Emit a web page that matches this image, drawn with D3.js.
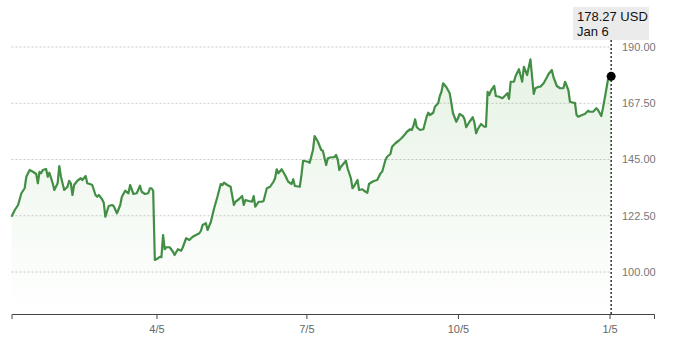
<!DOCTYPE html>
<html>
<head>
<meta charset="utf-8">
<script src="https://cdn.jsdelivr.net/npm/d3@7"></script>
<style>
  html, body { margin: 0; padding: 0; background: #fff; }
  svg { display: block; font-family: "Liberation Sans", Arial, Helvetica, sans-serif; }
</style>
</head>
<body>
<svg id="chart" width="680" height="339"></svg>
<script>
// ---- data ----
const dates = [
"2025-01-07","2025-01-09","2025-01-11","2025-01-13","2025-01-15","2025-01-16","2025-01-18","2025-01-20","2025-01-22","2025-01-23",
"2025-01-24","2025-01-25","2025-01-26","2025-01-28","2025-01-29","2025-01-30","2025-02-01","2025-02-02","2025-02-04","2025-02-05",
"2025-02-06","2025-02-08","2025-02-10","2025-02-11","2025-02-12","2025-02-13","2025-02-14","2025-02-16","2025-02-18","2025-02-19",
"2025-02-21","2025-02-22","2025-02-24","2025-02-25","2025-02-27","2025-02-28","2025-03-01","2025-03-03","2025-03-04","2025-03-05",
"2025-03-07","2025-03-09","2025-03-10","2025-03-12","2025-03-14","2025-03-15","2025-03-17","2025-03-19","2025-03-20","2025-03-22",
"2025-03-24","2025-03-26","2025-03-27","2025-03-29","2025-03-31","2025-04-01","2025-04-02","2025-04-03","2025-04-04","2025-04-06",
"2025-04-07","2025-04-08","2025-04-09","2025-04-10","2025-04-11","2025-04-13","2025-04-15","2025-04-16","2025-04-18","2025-04-20",
"2025-04-21","2025-04-23","2025-04-25","2025-04-27","2025-04-29","2025-05-01","2025-05-02","2025-05-03","2025-05-05","2025-05-06",
"2025-05-08","2025-05-09","2025-05-10","2025-05-12","2025-05-14","2025-05-15","2025-05-16","2025-05-18","2025-05-20","2025-05-22",
"2025-05-23","2025-05-25","2025-05-27","2025-05-28","2025-05-29","2025-05-31","2025-06-02","2025-06-03","2025-06-04","2025-06-06",
"2025-06-08","2025-06-09","2025-06-11","2025-06-13","2025-06-15","2025-06-16","2025-06-17","2025-06-18","2025-06-20","2025-06-22",
"2025-06-24","2025-06-26","2025-06-27","2025-06-28","2025-07-01","2025-07-02","2025-07-03","2025-07-06","2025-07-07","2025-07-09",
"2025-07-10","2025-07-12","2025-07-14","2025-07-15","2025-07-17","2025-07-18","2025-07-20","2025-07-22","2025-07-23","2025-07-24",
"2025-07-25","2025-07-26","2025-07-28","2025-07-29","2025-07-30","2025-08-01","2025-08-02","2025-08-03","2025-08-05","2025-08-06",
"2025-08-08","2025-08-09","2025-08-11","2025-08-12","2025-08-14","2025-08-15","2025-08-17","2025-08-19","2025-08-20","2025-08-22",
"2025-08-23","2025-08-25","2025-08-26","2025-08-28","2025-08-30","2025-09-01","2025-09-03","2025-09-04","2025-09-06","2025-09-07",
"2025-09-08","2025-09-09","2025-09-10","2025-09-12","2025-09-14","2025-09-16","2025-09-17","2025-09-18","2025-09-20","2025-09-21",
"2025-09-23","2025-09-24","2025-09-25","2025-09-26","2025-09-28","2025-09-30","2025-10-01","2025-10-02","2025-10-04","2025-10-05",
"2025-10-06","2025-10-08","2025-10-09","2025-10-10","2025-10-12","2025-10-14","2025-10-15","2025-10-16","2025-10-17","2025-10-19",
"2025-10-21","2025-10-22","2025-10-23","2025-10-24","2025-10-25","2025-10-27","2025-10-28","2025-10-30","2025-11-01","2025-11-03",
"2025-11-04","2025-11-05","2025-11-06","2025-11-08","2025-11-09","2025-11-11","2025-11-13","2025-11-14","2025-11-16","2025-11-18",
"2025-11-19","2025-11-20","2025-11-21","2025-11-23","2025-11-24","2025-11-26","2025-11-28","2025-11-29","2025-12-01","2025-12-02",
"2025-12-04","2025-12-06","2025-12-08","2025-12-09","2025-12-11","2025-12-12","2025-12-14","2025-12-15","2025-12-16","2025-12-17",
"2025-12-19","2025-12-21","2025-12-23","2025-12-24","2025-12-26","2025-12-28","2025-12-29","2025-12-31","2026-01-01","2026-01-03",
"2026-01-04","2026-01-06"
];
const prices = [
122.1,124.8,126.8,131.5,133.5,138.1,140.8,140.1,139.2,135.5,
140.1,139.5,140.8,141.2,138.1,139.7,135.5,132.8,135.5,142.4,
138.1,132.8,134.1,136.5,135.5,130.8,134.8,136.5,137.5,136.8,
138.4,135.5,135.1,134.8,130.8,130.1,130.8,129.1,127.7,122.1,
126.4,126.8,126.4,123.5,126.8,130.1,132.5,131.5,134.8,131.2,
131.5,134.5,132.1,131.2,131.5,133.5,133.5,132.5,104.8,105.5,
106.1,105.9,114.8,109.1,109.9,109.9,108.1,106.8,109.1,108.5,
109.9,113.5,112.8,114.1,114.8,115.5,116.5,118.8,119.5,116.8,
120.0,122.8,125.5,130.1,135.2,134.8,135.7,134.8,134.1,126.8,
128.1,129.1,130.4,126.8,128.8,128.4,128.1,130.4,126.1,128.1,
128.1,128.4,133.5,134.1,136.1,137.5,141.1,139.5,141.1,138.8,
136.1,135.2,137.1,134.4,134.1,138.8,144.5,144.1,143.7,148.8,
154.4,152.1,148.8,148.5,142.8,145.5,145.9,145.9,146.8,145.1,
140.8,142.1,143.7,144.5,141.5,137.5,133.5,134.4,136.8,132.8,
133.1,132.5,131.7,135.2,136.1,136.4,136.8,139.5,140.1,144.8,
146.1,147.2,150.1,151.5,152.5,153.7,155.2,156.1,157.1,156.8,
158.5,161.1,157.9,156.8,157.1,162.1,163.7,162.8,163.7,166.1,
167.5,170.4,172.1,175.5,173.9,171.5,167.5,163.5,160.1,161.5,
163.2,162.4,161.1,157.9,160.1,161.9,159.7,155.5,157.1,159.2,
158.1,158.1,172.1,170.8,172.5,174.4,170.4,170.1,169.5,170.8,
171.5,169.2,176.1,176.1,178.4,181.1,176.1,182.1,178.8,185.1,
178.1,171.2,173.5,174.1,174.1,175.5,177.9,179.2,180.8,177.9,
174.4,173.5,173.5,176.1,172.8,168.1,167.7,167.7,162.8,162.1,
162.7,163.2,164.5,164.1,164.1,165.5,164.8,162.4,165.5,172.8,
176.8,178.27
];
const yTicks = [100, 122.5, 145, 167.5, 190];
const xTickDates = ["2025-04-05", "2025-07-05", "2025-10-05", "2026-01-05"];
const lastLabel = "178.27 USD";
const lastDateLabel = "Jan 6";

// ---- chart ----
const parse = d3.timeParse("%Y-%m-%d");
const data = dates.map((d, i) => ({ date: parse(d), value: prices[i] }));
const svg = d3.select("#chart");

const x = d3.scaleTime()
  .domain([parse("2025-01-07"), parse("2026-02-01")])
  .range([11.5, 654]);
const y = d3.scaleLinear().domain([100, 190]).range([272, 47]);
const axisY = 314;
const gridRight = 612;

const defs = svg.append("defs");
const grad = defs.append("linearGradient")
  .attr("id", "areaGrad").attr("gradientUnits", "userSpaceOnUse")
  .attr("x1", 0).attr("x2", 0).attr("y1", y(190)).attr("y2", axisY);
grad.append("stop").attr("offset", "0%").attr("stop-color", "#5cae4f").attr("stop-opacity", 0.16);
grad.append("stop").attr("offset", "100%").attr("stop-color", "#5cae4f").attr("stop-opacity", 0);

// grid lines + y labels
const gy = svg.append("g");
gy.selectAll("line").data(yTicks).join("line")
  .attr("x1", x.range()[0]).attr("x2", gridRight)
  .attr("y1", d => y(d)).attr("y2", d => y(d))
  .attr("stroke", "#c8c8c8").attr("stroke-width", 1)
  .attr("stroke-dasharray", "2,2");
gy.selectAll("text").data(yTicks).join("text")
  .attr("x", 622).attr("y", d => y(d)).attr("dy", "0.35em")
  .attr("font-size", 11).attr("fill", "#777")
  .text(d => d3.format(".2f")(d));

// area
const area = d3.area().x(d => x(d.date)).y0(axisY).y1(d => y(d.value));
svg.append("path").datum(data).attr("d", area).attr("fill", "url(#areaGrad)");

// line
const line = d3.line().x(d => x(d.date)).y(d => y(d.value));
svg.append("path").datum(data).attr("d", line)
  .attr("fill", "none").attr("stroke", "#428e44")
  .attr("stroke-width", 2.2).attr("stroke-linejoin", "round");

// x axis
const xAxis = d3.axisBottom(x)
  .tickValues(xTickDates.map(parse))
  .tickFormat(d3.timeFormat("%-m/%-d"))
  .tickSizeOuter(0).tickSize(5).tickPadding(6);
const gx = svg.append("g").attr("transform", `translate(0,${axisY})`).call(xAxis);
gx.select(".domain").attr("stroke", "#444").attr("stroke-width", 1);
gx.selectAll(".tick line").attr("stroke", "#444");
gx.selectAll(".tick text").attr("font-size", 11).attr("fill", "#666")
  .attr("font-family", "'Liberation Sans', Arial, sans-serif");

// hover marker
const last = data[data.length - 1];
svg.append("line")
  .attr("x1", x(last.date)).attr("x2", x(last.date))
  .attr("y1", 40).attr("y2", axisY)
  .attr("stroke", "#333").attr("stroke-width", 1.5).attr("stroke-dasharray", "2,2");
svg.append("circle").attr("cx", x(last.date)).attr("cy", y(last.value))
  .attr("r", 4.5).attr("fill", "#000");

// tooltip
svg.append("rect").attr("x", 573).attr("y", 7).attr("width", 76).attr("height", 33)
  .attr("fill", "#ebebeb");
svg.append("text").attr("x", 577).attr("y", 21).attr("font-size", 13).attr("fill", "#111")
  .text(lastLabel);
svg.append("text").attr("x", 577).attr("y", 36).attr("font-size", 13).attr("fill", "#111")
  .text(lastDateLabel);
</script>
</body>
</html>
